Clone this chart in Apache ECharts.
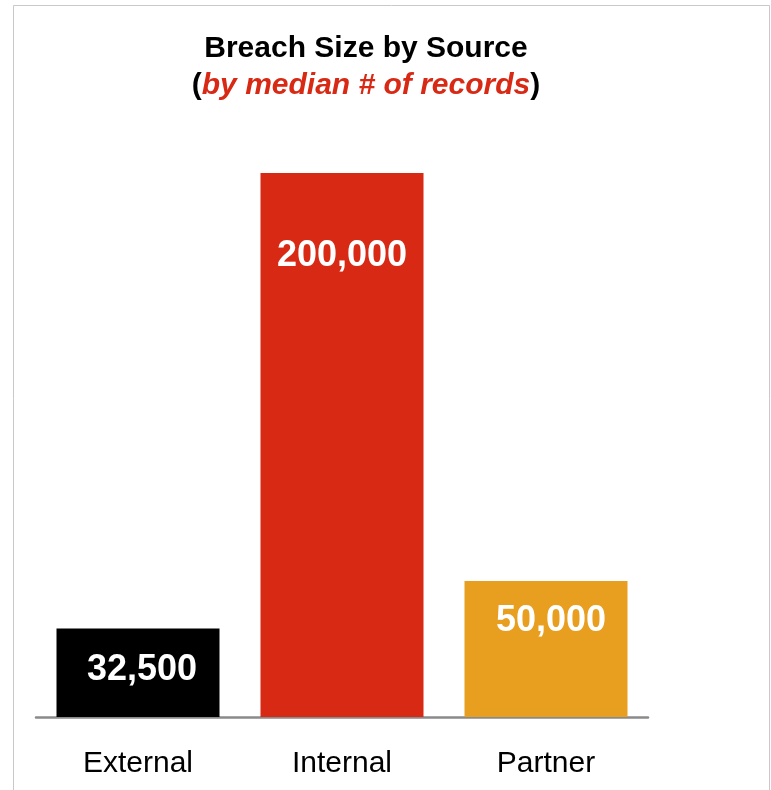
<!DOCTYPE html>
<html>
<head>
<meta charset="utf-8">
<script src="https://cdn.jsdelivr.net/npm/echarts@6/dist/echarts.min.js"></script>
<style>
  html, body { margin: 0; padding: 0; background: #ffffff; }
  #chart { width: 771px; height: 790px; }
</style>
</head>
<body>
<div id="chart"></div>
<script>
// Median number of records per breach, by source
const categories = ['External', 'Internal', 'Partner'];
const medianRecords = [32500, 200000, 50000];

// Per-bar styling
const barColors = ['#000000', '#d82914', '#e89e1e'];
const labelDistances = [23, 65, 22];
const labelShiftX = [4, 0, 5];

const chart = echarts.init(document.getElementById('chart'), null, { renderer: 'canvas' });

const seriesData = medianRecords.map((v, i) => ({
  value: v,
  itemStyle: { color: barColors[i] },
  label: { distance: labelDistances[i], offset: [labelShiftX[i], 0] }
}));

chart.setOption({
  backgroundColor: '#ffffff',
  animation: false,
  graphic: [{
    type: 'rect',
    z: -10,
    shape: { x: 13.5, y: 5.5, width: 756, height: 820 },
    style: { fill: '#ffffff', stroke: '#c9c9c9', lineWidth: 1 }
  }],
  title: {
    left: 361,
    top: 25,
    textAlign: 'center',
    text: '{b|Breach Size by Source}\n{p|(}{r|by median # of records}{p|)}',
    textStyle: {
      rich: {
        b: { fontFamily: 'Liberation Sans', fontWeight: 'bold', fontSize: 30, color: '#000000', lineHeight: 37 },
        p: { fontFamily: 'Liberation Sans', fontWeight: 'bold', fontSize: 30, color: '#000000', lineHeight: 37 },
        r: { fontFamily: 'Liberation Sans', fontWeight: 'bold', fontStyle: 'italic', fontSize: 30, color: '#d82914', lineHeight: 37 }
      }
    }
  },
  grid: { left: 36, right: 123, top: 173, bottom: 73, containLabel: false },
  xAxis: {
    type: 'category',
    data: categories,
    axisTick: { show: false },
    axisLine: { show: true, lineStyle: { color: '#8a8a8a', width: 2.5 } },
    axisLabel: {
      margin: 32,
      fontFamily: 'Liberation Sans',
      fontSize: 30,
      color: '#000000'
    }
  },
  yAxis: {
    type: 'value',
    min: 0,
    max: 200000,
    show: false,
    splitLine: { show: false }
  },
  series: [{
    type: 'bar',
    data: seriesData,
    barWidth: 163,
    label: {
      show: true,
      position: 'insideTop',
      fontFamily: 'Liberation Sans',
      fontWeight: 'bold',
      fontSize: 36,
      color: '#ffffff',
      formatter: p => p.value.toLocaleString('en-US')
    }
  }]
});
</script>
</body>
</html>
